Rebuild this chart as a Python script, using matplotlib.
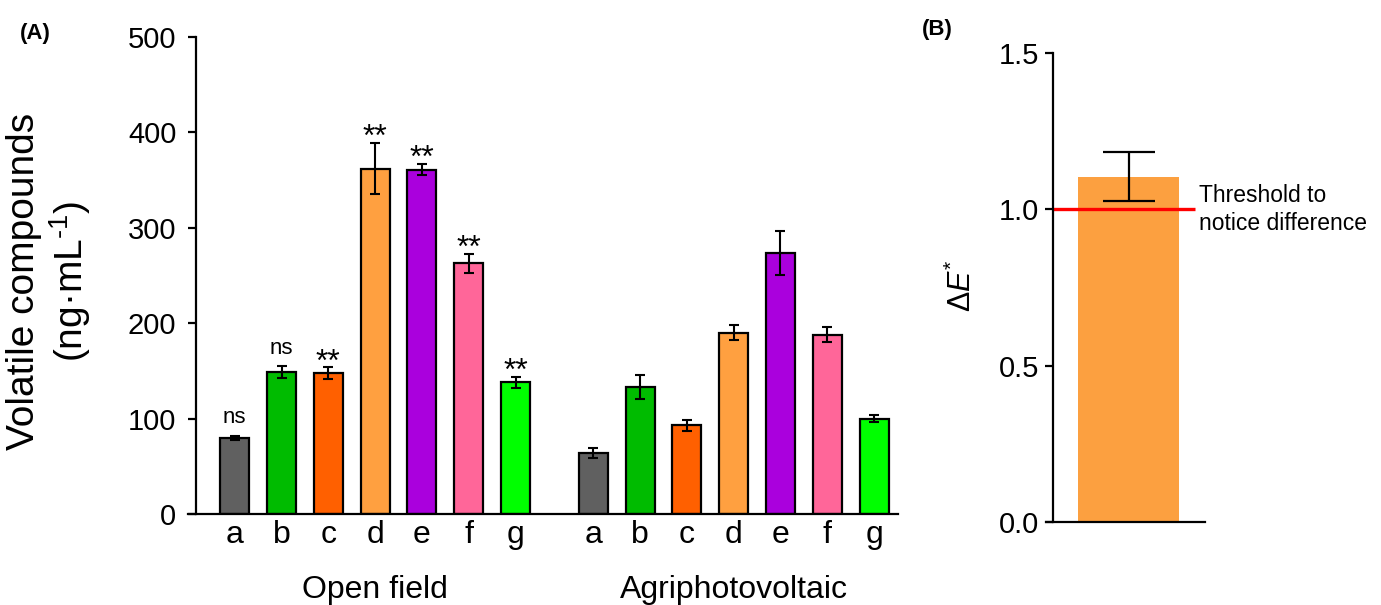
import matplotlib
matplotlib.use('Agg')
import matplotlib.pyplot as plt
import matplotlib.transforms as mtransforms
import numpy as np

plt.rcParams['font.family'] = ['Liberation Sans', 'DejaVu Sans']
plt.rcParams['mathtext.fontset'] = 'custom'
plt.rcParams['mathtext.rm'] = 'Liberation Sans'
plt.rcParams['mathtext.it'] = 'Liberation Sans:italic'

# Panel A data
samples = ['a', 'b', 'c', 'd', 'e', 'f', 'g']
groups = ['Open field', 'Agriphotovoltaic']
open_mean = [80, 149, 148, 362, 361, 263, 138]
open_err = [2, 6, 6, 27, 6, 10, 6]
open_sig = ['ns', 'ns', '**', '**', '**', '**', '**']
agri_mean = [64, 133, 93, 190, 274, 188, 100]
agri_err = [5, 12.5, 6, 8, 23, 8, 4]
bar_colors = ['#606060', '#00BB00', '#FF6000', '#FFA040', '#AA00DD', '#FF6699', '#00FF00']

# Panel B data
delta_e = 1.104
delta_e_err = 0.078
threshold = 1.0

fig = plt.figure(figsize=(13.81, 6.05), dpi=100)

# ---------------- Panel A ----------------
ax = fig.add_axes([0.1361, 0.1504, 0.5141, 0.7884])
gap = 7.66
x_open = np.arange(len(samples))
x_agri = x_open + gap
w = 0.62
ekw = dict(elinewidth=1.5, capthick=1.5, ecolor='black')
ax.bar(x_open, open_mean, w, yerr=open_err, color=bar_colors, edgecolor='black',
       linewidth=1.6, capsize=3.3, error_kw=ekw, zorder=2)
ax.bar(x_agri, agri_mean, w, yerr=agri_err, color=bar_colors, edgecolor='black',
       linewidth=1.6, capsize=3.3, error_kw=ekw, zorder=2)

for xi, m, e, s in zip(x_open, open_mean, open_err, open_sig):
    if s == 'ns':
        ax.annotate(s, (xi, m + e), xytext=(0, 9), textcoords='offset points',
                    ha='center', va='baseline', fontsize=16)
    else:
        ax.annotate(s, (xi, m + e), xytext=(0, -2.5), textcoords='offset points',
                    ha='center', va='baseline', fontsize=23)

ax.set_xlim(-1.0, 14.17)
ax.set_ylim(0, 500)
ax.set_yticks([0, 100, 200, 300, 400, 500])
ax.set_xticks(np.concatenate([x_open, x_agri]))
ax.set_xticklabels(samples + samples)
ax.spines['top'].set_visible(False)
ax.spines['right'].set_visible(False)
ax.spines['left'].set_position(('data', -0.83))
for sp in ['left', 'bottom']:
    ax.spines[sp].set_linewidth(1.6)
ax.tick_params(axis='y', labelsize=21, length=6, width=1.6, pad=8)
ax.tick_params(axis='x', labelsize=23, length=0, pad=4)

trans = mtransforms.blended_transform_factory(ax.transData, ax.transAxes)
ax.text(x_open.mean(), -0.16, groups[0], transform=trans, ha='center', va='center', fontsize=23)
ax.text(x_agri.mean(), -0.16, groups[1], transform=trans, ha='center', va='center', fontsize=23)

fig.text(0.036, 0.535, 'Volatile compounds\n(ng·mL$^{\\text{-1}}$)', rotation=90, ha='center',
         va='center', multialignment='center', fontsize=28, linespacing=1.15)
fig.text(20 / 1381, 1 - 33 / 605, '(A)', fontsize=16, fontweight='bold', ha='left', va='center')

# ---------------- Panel B ----------------
axb = fig.add_axes([0.7574, 0.1372, 0.1151, 0.7752])
axb.bar([0], [delta_e], 1.0, color='#FCA040', zorder=1)
axb.errorbar([0], [delta_e], yerr=[delta_e_err], fmt='none', ecolor='black',
             elinewidth=1.6, capsize=18.7, capthick=1.6, zorder=3)
axb.plot([-0.75, 0.655], [threshold, threshold], color='#FF0000', lw=2.4,
         solid_capstyle='butt', zorder=2, clip_on=False)
axb.text(0.70, threshold, 'Threshold to\nnotice difference', ha='left', va='center',
         fontsize=16.5, linespacing=1.3, clip_on=False)
axb.set_xlim(-0.82, 0.754)
axb.set_ylim(0, 1.5)
axb.set_yticks([0.0, 0.5, 1.0, 1.5])
axb.set_yticklabels(['0.0', '0.5', '1.0', '1.5'])
axb.set_xticks([])
axb.spines['top'].set_visible(False)
axb.spines['right'].set_visible(False)
axb.spines['left'].set_position(('data', -0.75))
for sp in ['left', 'bottom']:
    axb.spines[sp].set_linewidth(1.6)
axb.tick_params(axis='y', labelsize=21, length=6, width=1.6, pad=4)

fig.text(962 / 1381, 1 - 286 / 605, r'$\mathit{\Delta E}^{*}$', rotation=90, ha='center',
         va='center', fontsize=22)
fig.text(922 / 1381, 1 - 30 / 605, '(B)', fontsize=16, fontweight='bold', ha='left', va='center')

fig.savefig('out.png', dpi=100)
